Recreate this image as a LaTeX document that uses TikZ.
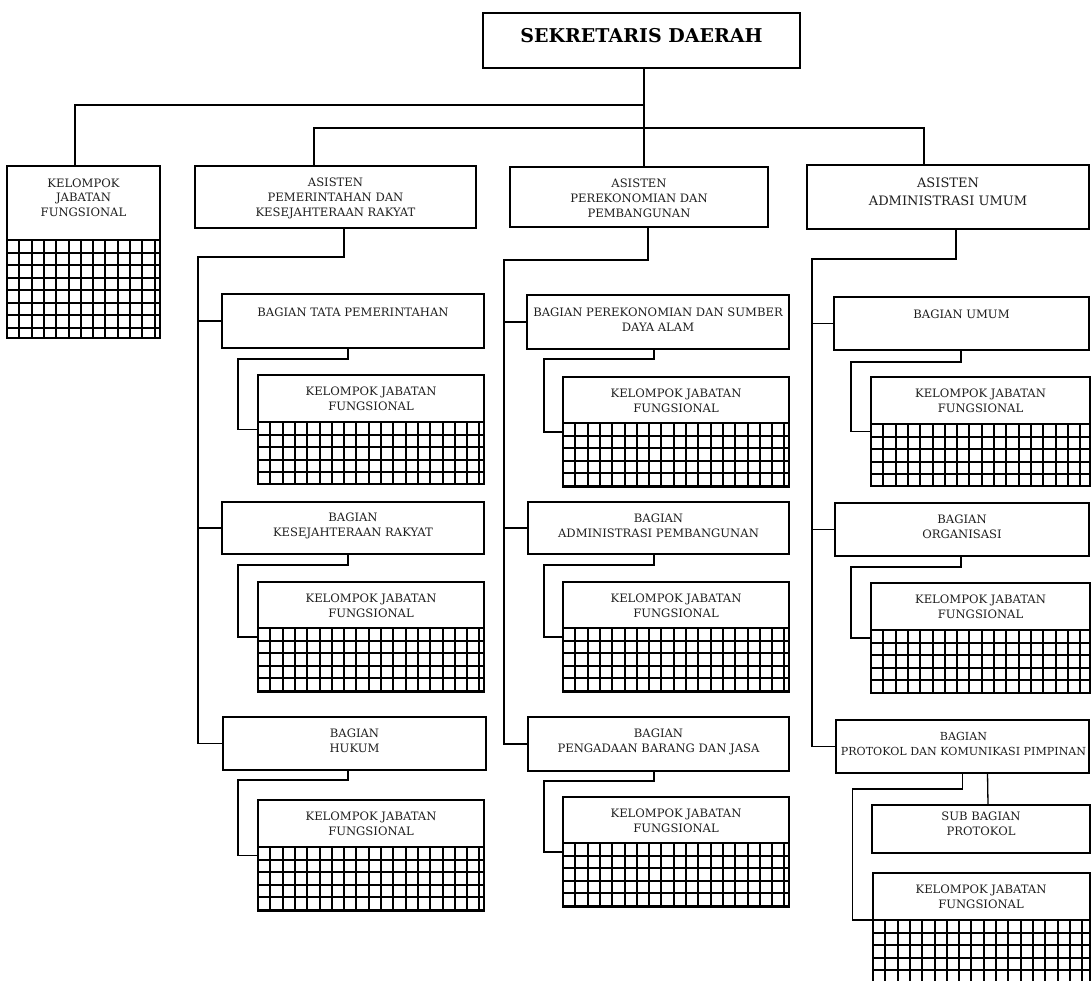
\documentclass[tikz,border=0pt]{standalone}
\usepackage{fontspec}
\setmainfont{DejaVu Serif}
\newcommand\fsn{\fontsize{11.6}{15}\selectfont}
\newcommand\fsp{\fontsize{11.1}{15}\selectfont}
\newcommand\fsl{\fontsize{11.6}{14.5}\selectfont}
\newcommand\fsc{\fontsize{13}{18}\selectfont}
\newcommand\fst{\fontsize{19}{21}\selectfont\bfseries}
\tikzset{
  thickbox/.style={draw, rectangle, line width=2.8pt, inner sep=0pt, outer sep=0pt, anchor=north west},
  thinbox/.style={draw, rectangle, line width=1.4pt, inner sep=0pt, outer sep=0pt, anchor=north west},
  conn/.style={line width=1.3pt},
  gridl/.style={line width=1.3pt},
  sepl/.style={line width=2.4pt},
  txt/.style={font=\fsn, align=center, text=black!88, inner sep=0pt}
}
% #1 name, #2 x1, #3 y1, #4 x2, #5 ysep, #6 y2
\newcommand\kjfbox[6]{%
  \node[thinbox, minimum width={#4-#2}, minimum height={#6-#3}] (#1) at (#2,#3) {};
  \foreach \k in {1,...,30}{%
    \pgfmathsetmacro\xx{round(#2+12.3*\k)}%
    \ifdim\xx pt<#4pt \draw[gridl] (\xx,#5) -- (\xx,#6); \fi
  }%
  \foreach \k in {1,...,12}{%
    \pgfmathsetmacro\yy{round(#5+12.5*\k)}%
    \ifdim\yy pt<#6pt \draw[gridl] (#2,\yy) -- (#4,\yy); \fi
  }%
  \draw[sepl] (#2,#5) -- (#4,#5);
}
\newcommand\bbox[5]{% name x1 y1 x2 y2
  \node[thickbox, minimum width={#4-#2}, minimum height={#5-#3}] (#1) at (#2,#3) {};
}
\begin{document}
\begin{tikzpicture}[x=1pt,y=-1pt]
\useasboundingbox (0,0) rectangle (1091,981);
\clip (0,0) rectangle (1091,981);
\fill[white] (0,0) rectangle (1091,981);

% top
\bbox{sek}{483}{13}{800}{68}
\node[txt, font=\fst, text=black] (sekt) at (641.5,35.5) {SEKRETARIS DAERAH};

\kjfbox{kjf0}{7}{166}{160}{240}{338}
\node[txt, font=\fsl] (kjf0t) at (83.5,197.5) {KELOMPOK\\JABATAN\\FUNGSIONAL};

\bbox{asA}{195}{166}{476}{228}
\node[txt] (asAt) at (335.5,198) {ASISTEN\\PEMERINTAHAN DAN\\KESEJAHTERAAN RAKYAT};
\bbox{asB}{510}{167}{768}{227}
\node[txt] (asBt) at (639,198) {ASISTEN\\PEREKONOMIAN DAN\\PEMBANGUNAN};
\bbox{asC}{807}{165}{1089}{229}
\node[txt, font=\fsc] (asCt) at (948,192) {ASISTEN\\ADMINISTRASI UMUM};

% column A
\bbox{bA1}{222}{294}{484}{348}
\node[txt] (bA1t) at (353,312) {BAGIAN TATA PEMERINTAHAN};
\kjfbox{kA1}{258}{375}{484}{422}{484}
\node[txt] (kA1t) at (371,398.5) {KELOMPOK JABATAN\\FUNGSIONAL};
\bbox{bA2}{222}{502}{484}{554}
\node[txt] (bA2t) at (353,525.5) {BAGIAN\\KESEJAHTERAAN RAKYAT};
\kjfbox{kA2}{258}{582}{484}{628}{692}
\node[txt] (kA2t) at (371,605.5) {KELOMPOK JABATAN\\FUNGSIONAL};
\bbox{bA3}{223}{717}{486}{770}
\node[txt] (bA3t) at (354.5,741) {BAGIAN\\HUKUM};
\kjfbox{kA3}{258}{800}{484}{847}{911}
\node[txt] (kA3t) at (371,823.5) {KELOMPOK JABATAN\\FUNGSIONAL};

% column B
\bbox{bB1}{527}{295}{789}{349}
\node[txt] (bB1t) at (658,320) {BAGIAN PEREKONOMIAN DAN SUMBER\\DAYA ALAM};
\kjfbox{kB1}{563}{377}{789}{423}{487}
\node[txt] (kB1t) at (676,400.5) {KELOMPOK JABATAN\\FUNGSIONAL};
\bbox{bB2}{528}{502}{789}{554}
\node[txt] (bB2t) at (658.5,525.5) {BAGIAN\\ADMINISTRASI PEMBANGUNAN};
\kjfbox{kB2}{563}{582}{789}{628}{692}
\node[txt] (kB2t) at (676,605.5) {KELOMPOK JABATAN\\FUNGSIONAL};
\bbox{bB3}{528}{717}{789}{771}
\node[txt] (bB3t) at (658.5,741.5) {BAGIAN\\PENGADAAN BARANG DAN JASA};
\kjfbox{kB3}{563}{797}{789}{843}{907}
\node[txt] (kB3t) at (676,820.5) {KELOMPOK JABATAN\\FUNGSIONAL};

% column C
\bbox{bC1}{834}{297}{1089}{350}
\node[txt] (bC1t) at (961.5,314) {BAGIAN UMUM};
\kjfbox{kC1}{871}{377}{1090}{424}{486}
\node[txt] (kC1t) at (980.5,400.5) {KELOMPOK JABATAN\\FUNGSIONAL};
\bbox{bC2}{835}{503}{1089}{556}
\node[txt] (bC2t) at (962,526.5) {BAGIAN\\ORGANISASI};
\kjfbox{kC2}{871}{583}{1090}{630}{693}
\node[txt] (kC2t) at (980.5,606.5) {KELOMPOK JABATAN\\FUNGSIONAL};
\bbox{bC3}{836}{720}{1089}{773}
\node[txt, font=\fsp] (bC3t) at (963.5,743.5) {BAGIAN\\PROTOKOL DAN KOMUNIKASI PIMPINAN};
\node[thinbox, minimum width=218, minimum height=48] (sub) at (872,805) {};
\node[txt] (subt) at (981,824) {SUB BAGIAN\\PROTOKOL};
\kjfbox{kC3}{873}{873}{1090}{920}{995}
\node[txt] (kC3t) at (981,897) {KELOMPOK JABATAN\\FUNGSIONAL};

% connectors top
\coordinate (tj1) at (644,105);
\coordinate (tj2) at (644,128);
\draw[conn] (sek.south -| tj1) -- (tj1 |- asB.north);
\draw[conn] (tj1) -| ([xshift=-8.5pt]kjf0.north);
\draw[conn] ([xshift=-21.5pt]asA.north) |- (tj2) -| ([xshift=-24pt]asC.north);

% spines
\coordinate (spA) at (198,257);
\coordinate (spB) at (504,260);
\coordinate (spC) at (812,259);
\draw[conn] ([xshift=8.5pt]asA.south) |- (spA) |- (bA3.west);
\draw[conn] ([xshift=9pt]asB.south) |- (spB) |- (bB3.west);
\draw[conn] ([xshift=8pt]asC.south) |- (spC) |- (bC3.west);
\draw[conn] (bA1.west) -- (bA1.west -| spA);
\draw[conn] (bA2.west) -- (bA2.west -| spA);
\draw[conn] (bB1.west) -- (bB1.west -| spB);
\draw[conn] (bB2.west) -- (bB2.west -| spB);
\draw[conn] (bC1.west) -- (bC1.west -| spC);
\draw[conn] (bC2.west) -- (bC2.west -| spC);

% bagian -> kelompok
\draw[conn] ([xshift=-5pt]bA1.south) |- ++(-110,11) |- (kA1.west);
\draw[conn] ([xshift=-5pt]bA2.south) |- ++(-110,11) |- (kA2.west);
\draw[conn] ([xshift=-6.5pt]bA3.south) |- ++(-110,10) |- (kA3.west);
\draw[conn] ([xshift=-4pt]bB1.south) |- ++(-110,10) |- (kB1.west);
\draw[conn] ([xshift=-4.5pt]bB2.south) |- ++(-110,11) |- (kB2.west);
\draw[conn] ([xshift=-4.5pt]bB3.south) |- ++(-110,10) |- (kB3.west);
\draw[conn] ([xshift=-0.5pt]bC1.south) |- ++(-110,12) |- (kC1.west);
\draw[conn] ([xshift=-1pt]bC2.south) |- ++(-110,11) |- (kC2.west);
\draw[conn] (bC3.south) |- ++(-110,16) |- ([yshift=-47pt]kC3.north west);
\draw[conn] ([xshift=25pt]bC3.south) -- ([xshift=7pt]sub.north);
\end{tikzpicture}
\end{document}
